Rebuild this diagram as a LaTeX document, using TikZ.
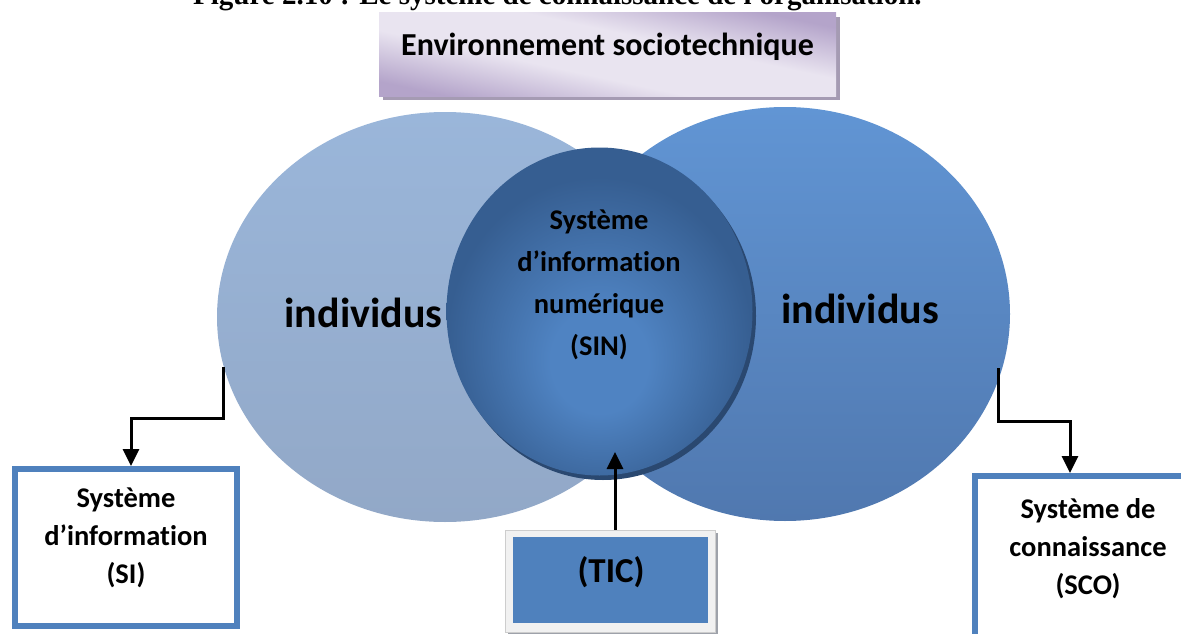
\documentclass[tikz,border=0pt]{standalone}
\usepackage{fontspec}
\setmainfont{Carlito}[Ligatures=NoCommon]
\newfontfamily\captionfont{Liberation Serif}
\usetikzlibrary{shapes.geometric,arrows.meta,calc,shadings,shadows}

\definecolor{leftTop}{HTML}{9AB6DA}
\definecolor{leftBot}{HTML}{92A8C7}
\definecolor{rightTop}{HTML}{6195D4}
\definecolor{rightBot}{HTML}{5078AF}
\definecolor{sinEdge}{HTML}{365E91}
\definecolor{sinLight}{HTML}{4F83C2}
\definecolor{sinShadow}{HTML}{2A4870}
\definecolor{boxBlue}{HTML}{4F81BD}
\definecolor{envLight}{HTML}{E9E4F0}
\definecolor{envDark}{HTML}{B4A4CA}
\definecolor{envShadow}{HTML}{A59BB3}
\definecolor{ticFrame}{HTML}{F1F1F1}
\definecolor{ticShadow}{HTML}{9EA2AA}

% lighter spot slightly below the centre of the SIN disc
\pgfdeclareradialshading{sinball}{\pgfpoint{0bp}{-9bp}}{%
  color(0bp)=(sinLight); color(8bp)=(sinLight);
  color(25bp)=(sinEdge); color(50bp)=(sinEdge)}
% pale diagonal band across the banner, purple towards two corners
\pgfdeclareverticalshading{envband}{100bp}{%
  color(0bp)=(envDark); color(25bp)=(envDark); color(42bp)=(envLight);
  color(58bp)=(envLight); color(75bp)=(envDark); color(100bp)=(envDark)}

\begin{document}
\begin{tikzpicture}[x=1pt,y=-1pt,
  txt/.style={font=\bfseries\fontsize{28.5}{38}\selectfont, align=center, inner sep=0pt},
  sintxt/.style={font=\bfseries\fontsize{28.5}{42}\selectfont, align=center, inner sep=0pt},
  bigtxt/.style={font=\bfseries\fontsize{42}{50}\selectfont, inner sep=0pt},
  blob/.style={ellipse, inner sep=0pt, draw=none},
  sysbox/.style={rectangle, draw=boxBlue, line width=6pt, fill=white, inner sep=0pt},
  conn/.style={line width=3pt, -{Triangle[width=16pt,length=17pt]}},
]
\useasboundingbox (0,0) rectangle (1181,634);
\begin{scope}
\clip (0,0) rectangle (1181,634);

% figure caption running along the top edge
\node[font=\captionfont\bfseries\fontsize{29}{34}\selectfont, anchor=base west, inner sep=0pt]
  (caption) at (193,5) {Figure 2.10 : Le système de connaissance de l'organisation.};

% socio-technical environment banner
\fill[envShadow] (383,17) rectangle (840,100);
\node[rectangle, inner sep=0pt, minimum width=457pt, minimum height=83pt,
  shading=envband, shading angle=-12]
  (env) at (607.5,54.5) {};
\node[font=\bfseries\fontsize{32}{38}\selectfont, anchor=base, inner sep=0pt]
  (envtxt) at (607.5,56) {Environnement sociotechnique};

% the two populations of individuals
\node[blob, minimum width=456pt, minimum height=410pt, top color=leftTop, bottom color=leftBot]
  (indl) at (445,317) {};
\node[blob, minimum width=450pt, minimum height=414pt, top color=rightTop, bottom color=rightBot]
  (indr) at (785,314) {};

% digital information system disc
\node[blob, fill=sinShadow, minimum width=306pt, minimum height=328pt] (sinshadow) at (603,316) {};
\node[blob, shading=sinball, minimum width=306pt, minimum height=328pt] (sin) at (599.5,311.5) {};
\node[sintxt] (sintext) at (599,285) {Système\\d’information\\numérique\\(SIN)};

\node[bigtxt, anchor=base] (indltxt) at (363.5,327) {individus};
\node[bigtxt, anchor=base] (indrtxt) at (860,323) {individus};

% information system box
\node[sysbox, minimum width=222pt, minimum height=157pt] (sibox) at (126,547.5) {};
\node[txt] (sitext) at (126,538) {Système\\d’information\\(SI)};

% knowledge system box
\node[sysbox, minimum width=226pt, minimum height=200pt] (scobox) at (1088,576) {};
\node[txt] (scotext) at (1088,549) {Système de\\connaissance\\(SCO)};

% ICT box
\node[rectangle, inner sep=0pt, fill=ticFrame, draw=ticFrame!85!black, line width=0.4pt,
  minimum width=210pt, minimum height=102pt,
  drop shadow={shadow xshift=3pt, shadow yshift=-3pt, fill=ticShadow, opacity=1}]
  (ticframe) at (610,581) {};
\node[rectangle, inner sep=0pt, fill=boxBlue, minimum width=195pt, minimum height=86pt]
  (tic) at (610.5,580) {};
\node[font=\bfseries\fontsize{35}{40}\selectfont, inner sep=0pt] (tictext) at (611,572.5) {(TIC)};

% connectors
\coordinate (siout) at (223,367);
\coordinate (scoout) at (998,368);
\coordinate (ticin) at (615,452);
\draw[conn] (siout) -- ++(0,51) -| ([xshift=5pt]sibox.north);
\draw[conn] (scoout) -- ++(0,53) -| ([xshift=-18pt]scobox.north);
\draw[conn] ([xshift=5pt]ticframe.north) -- (ticin);
\end{scope}
\end{tikzpicture}
\end{document}
